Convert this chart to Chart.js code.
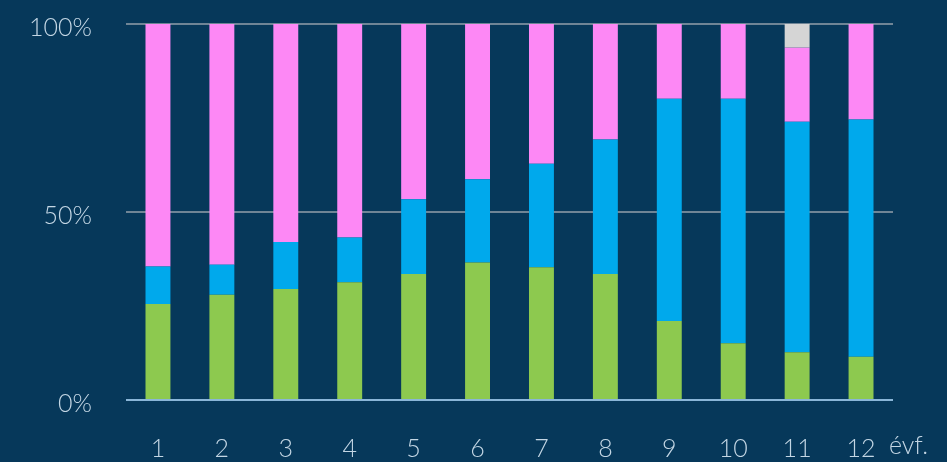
<!DOCTYPE html>
<html>
<head>
<meta charset="utf-8">
<script src="https://cdn.jsdelivr.net/npm/chart.js@4/dist/chart.umd.min.js"></script>
<style>
    html, body { margin: 0; padding: 0; background: #06385a; }
    #wrap { width: 947px; height: 462px; }
</style>
</head>
<body>
<div id="wrap"><canvas id="chart" width="947" height="462"></canvas></div>
<script>
const grades = ['1', '2', '3', '4', '5', '6', '7', '8', '9', '10', '11', '12'];
const greenShare = [25.5, 28, 29.5, 31.3, 33.5, 36.6, 35.3, 33.5, 21, 15.1, 12.7, 11.5];
const blueShare = [10, 8, 12.5, 11.9, 19.9, 22.1, 27.5, 35.8, 59.1, 65, 61.3, 63.1];
const pinkShare = [64.5, 64, 58, 56.8, 46.6, 41.3, 37.2, 30.7, 19.9, 19.9, 19.7, 25.4];
const greyShare = [0, 0, 0, 0, 0, 0, 0, 0, 0, 0, 6.3, 0];
const yTicks = [0, 50, 100];
const axisUnit = 'évf.';

const labelColor = '#c3d6e4';
const fontFamily = 'Lato, "Open Sans", sans-serif';
const labelFont = { family: fontFamily, size: 25, weight: 300 };

// "évf." sits just right of the last category label
const unitLabel = {
    id: 'unitLabel',
    afterDraw(chart) {
        const { ctx, chartArea } = chart;
        const xScale = chart.scales.x;
        ctx.save();
        ctx.fillStyle = labelColor;
        ctx.font = `300 25px ${fontFamily}`;
        ctx.textAlign = 'left';
        ctx.textBaseline = 'middle';
        ctx.fillText(axisUnit, chartArea.right - 4, xScale.bottom - 16);
        ctx.restore();
    },
};

function series(label, data, color) {
    return {
        label,
        data,
        backgroundColor: color,
        borderWidth: 0,
        barPercentage: 0.39,
        categoryPercentage: 1,
    };
}

new Chart(document.getElementById('chart'), {
    type: 'bar',
    data: {
        labels: grades,
        datasets: [
            series('zöld', greenShare, '#8dc94f'),
            series('kék', blueShare, '#00a9ec'),
            series('rózsaszín', pinkShare, '#fd88f5'),
            series('szürke', greyShare, '#d5d5d5'),
        ],
    },
    options: {
        responsive: false,
        animation: false,
        layout: { padding: { top: 24, right: 54, bottom: 0, left: 0 } },
        plugins: {
            legend: { display: false },
            tooltip: { enabled: false },
        },
        scales: {
            x: {
                stacked: true,
                grid: { display: false, drawTicks: false },
                border: { display: false },
                ticks: {
                    color: labelColor,
                    font: labelFont,
                    padding: 34,
                    maxRotation: 0,
                },
                afterFit(scale) { scale.height = 62; },
            },
            y: {
                stacked: true,
                min: 0,
                max: 100,
                afterBuildTicks(scale) {
                    scale.ticks = yTicks.map((value) => ({ value }));
                },
                grid: {
                    drawTicks: false,
                    lineWidth: 2,
                    color: (ctx) => (ctx.tick && ctx.tick.value === 0 ? '#8ab6d8' : '#6f8596'),
                },
                border: { display: false },
                ticks: {
                    color: labelColor,
                    font: labelFont,
                    padding: 34,
                    labelOffset: 4,
                    callback: (value) => `${value}%`,
                },
                afterFit(scale) {
                    scale.width = 126;
                    scale.paddingTop = 0;
                    scale.paddingBottom = 0;
                },
            },
        },
    },
    plugins: [unitLabel],
});
</script>
</body>
</html>
